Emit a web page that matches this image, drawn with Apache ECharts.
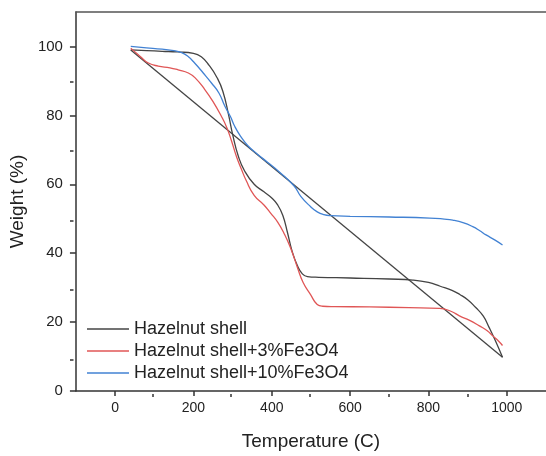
<!DOCTYPE html>
<html><head><meta charset="utf-8">
<script src="https://cdn.jsdelivr.net/npm/echarts@6/dist/echarts.min.js"></script>
<style>html,body{margin:0;padding:0;background:#fff}#c{width:546px;height:456px}</style>
</head><body><div id="c"></div>
<script>
const seriesNames = ['Hazelnut shell', 'Hazelnut shell+3%Fe3O4', 'Hazelnut shell+10%Fe3O4'];

const tempShell = [40, 80, 120, 160, 200, 220, 240, 260, 275, 290, 300, 315, 330, 355, 380, 400, 415, 428, 440, 452, 465, 478, 491, 520, 600, 700, 760, 800, 830, 860, 880, 900, 920, 940, 955, 970, 989];
const weightShell = [99, 98.8, 98.6, 98.4, 98, 97, 94.5, 91, 87, 80, 74.5, 68, 64, 60, 57.8, 56, 54, 51, 46, 40.5, 36.5, 34, 33.2, 33, 32.8, 32.5, 32.2, 31.5, 30.4, 29.2, 28, 26.5, 24.3, 21.7, 18.4, 14.8, 9.8];
// closing straight segment from the end point back to the start point
const tempShellClose = [989, 40];
const weightShellClose = [9.8, 99];

const temp3 = [40, 50, 65, 85, 110, 140, 161, 187, 205, 229, 250, 271, 285, 296, 310, 322, 335, 355, 380, 398, 415, 431, 448, 465, 480, 499, 516, 530, 560, 650, 750, 828, 860, 879, 905, 930, 950, 964, 978, 989];
const weight3 = [99.5, 98.5, 97, 95.2, 94.3, 93.8, 93.2, 92.3, 90.8, 87.5, 84, 79.8, 76.5, 73, 68, 64.5, 61, 56.8, 54, 51.5, 49, 45.8, 41.5, 36, 31.5, 28, 25.1, 24.6, 24.5, 24.4, 24.2, 24, 23, 21.8, 20.5, 18.9, 17.5, 16, 14.6, 13.2];

const temp10 = [40, 80, 120, 150, 170, 185, 203, 225, 246, 265, 280, 295, 305, 320, 339, 365, 389, 420, 457, 474, 499, 516, 533, 550, 600, 700, 803, 840, 862, 890, 913, 930, 947, 970, 989];
const weight10 = [100, 99.6, 99.2, 98.8, 98.2, 97.2, 95.2, 92.3, 89.4, 86.5, 82.7, 79.5, 76.9, 74, 71.2, 68.6, 66.4, 63.5, 59.5, 56.5, 53.5, 52, 51.2, 50.9, 50.7, 50.5, 50.2, 49.9, 49.6, 48.8, 47.7, 46.6, 45.3, 43.8, 42.4];

const xMajorTicks = [0, 200, 400, 600, 800, 1000];
const xMinorTicks = [100, 300, 500, 700, 900];
const yMajorTicks = [0, 20, 40, 60, 80, 100];
const yMinorTicks = [10, 30, 50, 70, 90];

const zip = (a, b) => a.map((v, i) => [v, b[i]]);
const FONT = "'Liberation Sans', Arial, sans-serif";
const AXC = '#333';
const colors = ['#444444', '#e05656', '#4282d3'];

const gridBox = { left: 73.5, top: 12, width: 474, height: 382 };

const chart = echarts.init(document.getElementById('c'), null, { renderer: 'canvas' });
chart.setOption({
  animation: false,
  backgroundColor: '#fff',
  grid: [
    Object.assign({ containLabel: false }, gridBox),
    Object.assign({ containLabel: false }, gridBox)
  ],
  legend: {
    orient: 'vertical', left: 82, top: 313,
    icon: 'rect', itemWidth: 42, itemHeight: 1.4, itemGap: 0,
    data: seriesNames,
    textStyle: { fontFamily: FONT, fontSize: 18, color: '#222', lineHeight: 22 }
  },
  xAxis: [
    {
      gridIndex: 0, type: 'value', min: -100, max: 1100, position: 'bottom',
      name: 'Temperature (C)', nameLocation: 'middle', nameGap: 41,
      nameTextStyle: { fontFamily: FONT, fontSize: 19, color: '#222' },
      axisLine: { show: true, onZero: false, lineStyle: { color: AXC, width: 1.5 } },
      axisTick: { show: true, inside: false, length: 5, customValues: xMajorTicks, lineStyle: { color: AXC, width: 1.5 } },
      axisLabel: { show: true, customValues: xMajorTicks, formatter: v => String(v), margin: 10, fontFamily: FONT, fontSize: 14, color: '#222' },
      splitLine: { show: false }
    },
    {
      gridIndex: 0, type: 'value', min: -100, max: 1100, position: 'top',
      axisLine: { show: true, onZero: false, lineStyle: { color: '#555', width: 1.5 } },
      axisTick: { show: false }, axisLabel: { show: false }, splitLine: { show: false }
    },
    {
      gridIndex: 1, type: 'value', min: -100, max: 1100, position: 'bottom',
      axisLine: { show: false, onZero: false },
      axisTick: { show: true, inside: false, length: 3, customValues: xMinorTicks, lineStyle: { color: AXC, width: 1.5 } },
      axisLabel: { show: false }, splitLine: { show: false }
    }
  ],
  yAxis: [
    {
      gridIndex: 0, type: 'value', min: 0, max: 110, position: 'left',
      name: 'Weight (%)', nameLocation: 'middle', nameGap: 45,
      nameTextStyle: { fontFamily: FONT, fontSize: 19, color: '#222' },
      axisLine: { show: true, onZero: false, lineStyle: { color: AXC, width: 1.5 } },
      axisTick: { show: true, inside: false, length: 6, customValues: yMajorTicks, lineStyle: { color: AXC, width: 1.5 } },
      axisLabel: { show: true, customValues: yMajorTicks, formatter: v => String(v), margin: 13, fontFamily: FONT, fontSize: 15, color: '#222' },
      splitLine: { show: false }
    },
    {
      gridIndex: 1, type: 'value', min: 0, max: 110, position: 'left',
      axisLine: { show: false, onZero: false },
      axisTick: { show: true, inside: false, length: 3.5, customValues: yMinorTicks, lineStyle: { color: AXC, width: 1.5 } },
      axisLabel: { show: false }, splitLine: { show: false }
    }
  ],
  series: [
    {
      name: seriesNames[0], type: 'line', xAxisIndex: 0, yAxisIndex: 0,
      data: zip(tempShell, weightShell), symbol: 'none', showSymbol: false, smooth: 0.5,
      lineStyle: { color: colors[0], width: 1.3 }, itemStyle: { color: colors[0] }
    },
    {
      name: seriesNames[0], type: 'line', xAxisIndex: 0, yAxisIndex: 0,
      data: zip(tempShellClose, weightShellClose), symbol: 'none', showSymbol: false,
      lineStyle: { color: colors[0], width: 1.3 }, itemStyle: { color: colors[0] }
    },
    {
      name: seriesNames[1], type: 'line', xAxisIndex: 0, yAxisIndex: 0,
      data: zip(temp3, weight3), symbol: 'none', showSymbol: false, smooth: 0.5,
      lineStyle: { color: colors[1], width: 1.3 }, itemStyle: { color: colors[1] }
    },
    {
      name: seriesNames[2], type: 'line', xAxisIndex: 0, yAxisIndex: 0,
      data: zip(temp10, weight10), symbol: 'none', showSymbol: false, smooth: 0.5,
      lineStyle: { color: colors[2], width: 1.3 }, itemStyle: { color: colors[2] }
    }
  ]
});
</script>
</body></html>
